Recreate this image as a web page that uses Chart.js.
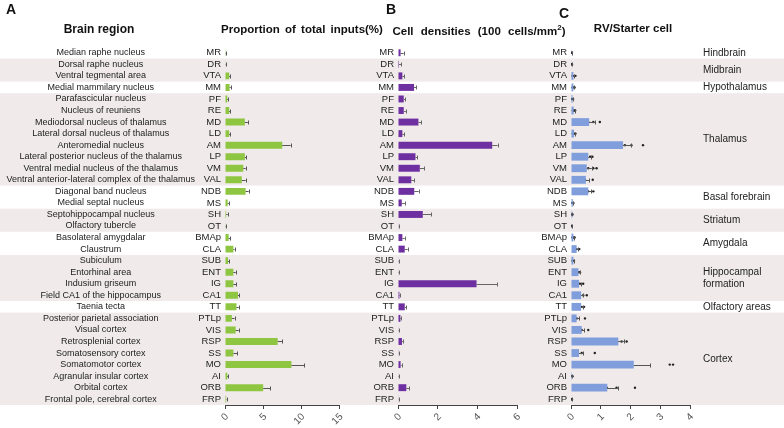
<!DOCTYPE html>
<html lang="en">
<head>
  <meta charset="UTF-8" />
  <title>Brain region inputs</title>
  <script src="https://cdn.jsdelivr.net/npm/chart.js"></script>
  <style>
    body {
      margin: 0;
      width: 784px;
      height: 428px;
      position: relative;
      background: #fff;
      font-family: 'Liberation Sans', Arial, sans-serif;
      color: #111;
      overflow: hidden;
    }
    canvas {
      position: absolute;
      top: 0;
    }
    .head {
      position: absolute;
      font-weight: bold;
      font-size: 11.5px;
      line-height: 14px;
      white-space: nowrap;
      transform: translateX(-50%);
      z-index: 2;
    }
    .letter {
      position: absolute;
      font-weight: bold;
      font-size: 14px;
      line-height: 16px;
      z-index: 2;
    }
    sup { font-size: 8px; line-height: 0; }
  </style>
</head>
<body>
  <canvas id="chartA" width="350" height="428" style="left:0"></canvas>
  <canvas id="chartB" width="190" height="428" style="left:350px"></canvas>
  <canvas id="chartC" width="244" height="428" style="left:540px"></canvas>

  <div class="letter" style="left:6px; top:1px">A</div>
  <div class="letter" style="left:386px; top:1px">B</div>
  <div class="letter" style="left:559px; top:5px">C</div>
  <div class="head" style="left:99px; top:22px; font-size:12px">Brain region</div>
  <div class="head" style="left:302px; top:22px; word-spacing:2px">Proportion of total inputs(%)</div>
  <div class="head" style="left:479px; top:24px; word-spacing:4px">Cell densities (100 cells/mm<sup>2</sup>)</div>
  <div class="head" style="left:633px; top:21px">RV/Starter cell</div>

  <script>
    const abbrs = ['MR', 'DR', 'VTA', 'MM', 'PF', 'RE', 'MD', 'LD', 'AM', 'LP', 'VM', 'VAL',
      'NDB', 'MS', 'SH', 'OT', 'BMAp', 'CLA', 'SUB', 'ENT', 'IG', 'CA1', 'TT',
      'PTLp', 'VIS', 'RSP', 'SS', 'MO', 'AI', 'ORB', 'FRP'];

    const regionNames = ['Median raphe nucleus', 'Dorsal raphe nucleus', 'Ventral tegmental area',
      'Medial mammilary nucleus', 'Parafascicular nucleus', 'Nucleus of reuniens',
      'Mediodorsal nucleus of thalamus', 'Lateral dorsal nucleus of thalamus', 'Anteromedial nucleus',
      'Lateral posterior nucleus of the thalamus', 'Ventral medial nucleus of the thalamus',
      'Ventral anterior-lateral complex of the thalamus', 'Diagonal band nucleus', 'Medial septal nucleus',
      'Septohippocampal nucleus', 'Olfactory tubercle', 'Basolateral amygdalar', 'Claustrum', 'Subiculum',
      'Entorhinal area', 'Indusium griseum', 'Field CA1 of the hippocampus', 'Taenia tecta',
      'Posterior parietal association', 'Visual cortex', 'Retrosplenial cortex', 'Somatosensory cortex',
      'Somatomotor cortex', 'Agranular insular cortex', 'Orbital cortex', 'Frontal pole, cerebral cortex'];

    // [label, first row, last row]
    const regionGroups = [
      ['Hindbrain', 0, 0], ['Midbrain', 1, 2], ['Hypothalamus', 3, 3], ['Thalamus', 4, 11],
      ['Basal forebrain', 12, 13], ['Striatum', 14, 15], ['Amygdala', 16, 17],
      ['Hippocampal\nformation', 18, 21], ['Olfactory areas', 22, 22], ['Cortex', 23, 30]
    ];

    // A: proportion of total inputs (%)
    const inputPct = [0.1, 0.05, 0.55, 0.6, 0.3, 0.55, 2.6, 0.55, 7.5, 2.6, 2.4, 2.2,
      2.7, 0.35, 0.15, 0.05, 0.48, 1.1, 0.4, 1.1, 1.1, 1.7, 1.5,
      0.9, 1.4, 6.9, 1.1, 8.7, 0.3, 5.0, 0.15];
    const inputSem = [0.05, 0.03, 0.15, 0.15, 0.1, 0.15, 0.4, 0.15, 1.1, 0.2, 0.3, 0.5,
      0.4, 0.15, 0.2, 0.05, 0.2, 0.15, 0.15, 0.3, 0.4, 0.15, 0.3,
      0.35, 0.4, 0.6, 0.5, 1.7, 0.1, 0.9, 0.05];

    // B: cell densities (100 cells/mm2)
    const density = [0.13, 0.05, 0.22, 0.81, 0.29, 0.29, 1.03, 0.22, 4.75, 0.88, 1.1, 0.67,
      0.82, 0.19, 1.25, 0.02, 0.22, 0.34, 0.03, 0.03, 3.96, 0.07, 0.34,
      0.12, 0.03, 0.2, 0.02, 0.13, 0.03, 0.42, 0.02];
    const densitySem = [0.16, 0.1, 0.1, 0.1, 0.08, 0.1, 0.15, 0.08, 0.27, 0.1, 0.21, 0.14,
      0.22, 0.15, 0.43, 0.01, 0.12, 0.15, 0.02, 0.02, 1.04, 0.05, 0.08,
      0.04, 0.02, 0.04, 0.01, 0.05, 0.02, 0.13, 0.01];

    // C: RV / starter cell, mean, sem and individual animals
    const rvRatio = [0.02, 0.02, 0.08, 0.08, 0.05, 0.09, 0.61, 0.1, 1.75, 0.58, 0.53, 0.5,
      0.58, 0.06, 0.03, 0.02, 0.08, 0.19, 0.08, 0.25, 0.27, 0.34, 0.34,
      0.19, 0.36, 1.59, 0.27, 2.11, 0.03, 1.22, 0.02];
    const rvSem = [0.01, 0.01, 0.03, 0.03, 0.02, 0.03, 0.19, 0.04, 0.28, 0.1, 0.17, 0.12,
      0.1, 0.02, 0.02, 0.01, 0.03, 0.05, 0.02, 0.05, 0.08, 0.08, 0.06,
      0.09, 0.09, 0.19, 0.13, 0.56, 0.02, 0.37, 0.01];
    const rvAnimals = [
      [0.01, 0.03], [0.01, 0.03], [0.05, 0.1, 0.15], [0.05, 0.08, 0.12], [0.03, 0.07],
      [0.06, 0.1, 0.14], [0.36, 0.49, 0.58, 0.75, 0.97], [0.06, 0.1, 0.15],
      [1.25, 1.39, 1.59, 1.81, 2.03, 2.42], [0.3, 0.41, 0.64, 0.72], [0.3, 0.41, 0.58, 0.75, 0.86],
      [0.21, 0.3, 0.47, 0.73], [0.36, 0.44, 0.58, 0.75], [0.04, 0.08], [0.02, 0.05], [0.01, 0.03],
      [0.05, 0.1, 0.12], [0.12, 0.19, 0.28], [0.05, 0.1], [0.13, 0.25, 0.3], [0.13, 0.3, 0.41],
      [0.3, 0.41, 0.53], [0.25, 0.36, 0.44], [0.08, 0.19, 0.47], [0.19, 0.36, 0.58],
      [1.25, 1.42, 1.55, 1.7, 1.87], [0.08, 0.13, 0.36, 0.8], [0.92, 1.2, 1.59, 3.32, 3.43],
      [0.02, 0.05], [0.66, 0.97, 1.2, 1.53, 2.15], [0.01, 0.03]
    ];

    const FONT = "'Liberation Sans', Arial, sans-serif";
    const bandColor = '#f0eaeb';

    // shaded background rows, every other region group
    const bandPlugin = {
      id: 'bands',
      beforeDraw(chart) {
        const y = chart.scales.y, ctx = chart.ctx;
        const step = y.getPixelForValue(1) - y.getPixelForValue(0);
        ctx.save();
        ctx.fillStyle = bandColor;
        regionGroups.forEach((g, k) => {
          if (k % 2 === 0) return;
          const top = y.getPixelForValue(g[1]) - step / 2;
          const bottom = y.getPixelForValue(g[2]) + step / 2;
          ctx.fillRect(0, top, chart.width, bottom - top);
        });
        ctx.restore();
      }
    };

    // one-sided error bars (mean + sem)
    const errorBarPlugin = {
      id: 'errorBars',
      afterDatasetsDraw(chart, args, opts) {
        const meta = chart.getDatasetMeta(0);
        const x = chart.scales.x, ctx = chart.ctx;
        const vals = chart.data.datasets[0].data;
        ctx.save();
        ctx.strokeStyle = opts.color;
        ctx.lineWidth = 1;
        meta.data.forEach((bar, i) => {
          const x0 = x.getPixelForValue(vals[i]);
          const x1 = x.getPixelForValue(vals[i] + opts.sem[i]);
          const yy = Math.round(bar.y) + 0.5;
          ctx.beginPath();
          ctx.moveTo(x0, yy);
          ctx.lineTo(x1, yy);
          ctx.moveTo(Math.round(x1) + 0.5, yy - 2);
          ctx.lineTo(Math.round(x1) + 0.5, yy + 2);
          ctx.stroke();
        });
        ctx.restore();
      }
    };

    // region group names on the right of panel C
    const groupLabelPlugin = {
      id: 'groupLabels',
      afterDraw(chart) {
        const y = chart.scales.y, ctx = chart.ctx;
        const left = chart.chartArea.right + 13;
        ctx.save();
        ctx.font = '10px ' + FONT;
        ctx.fillStyle = '#222';
        ctx.textBaseline = 'middle';
        ctx.textAlign = 'left';
        regionGroups.forEach(g => {
          const mid = (y.getPixelForValue(g[1]) + y.getPixelForValue(g[2])) / 2;
          const lines = g[0].split('\n');
          lines.forEach((ln, j) => {
            ctx.fillText(ln, left, mid + (j - (lines.length - 1) / 2) * 12);
          });
        });
        ctx.restore();
      }
    };

    function valueAxis(max, step) {
      return {
        type: 'linear',
        position: 'bottom',
        min: 0,
        max: max,
        grid: { drawOnChartArea: false, drawTicks: true, tickLength: 4, color: '#444' },
        border: { display: true, color: '#444', width: 1 },
        ticks: {
          stepSize: step, minRotation: 45, maxRotation: 45, padding: 2, labelOffset: 2,
          font: { family: FONT, size: 10 }, color: '#555'
        },
        afterFit(s) { s.height = 23; }
      };
    }

    function abbrAxis(width) {
      return {
        type: 'category',
        position: 'left',
        offset: true,
        grid: { display: false, drawTicks: false },
        border: { display: false },
        ticks: { padding: 4, autoSkip: false, font: { family: FONT, size: 9.5 }, color: '#222' },
        afterFit(s) { s.width = width; }
      };
    }

    function baseOptions(padRight, errSem, errColor) {
      return {
        indexAxis: 'y',
        responsive: false,
        animation: false,
        layout: { padding: { top: 47, bottom: 0, left: 0, right: padRight } },
        plugins: {
          legend: { display: false },
          tooltip: { enabled: false },
          errorBars: { sem: errSem, color: errColor }
        }
      };
    }

    // Panel A
    const optsA = baseOptions(10, inputSem, '#555');
    optsA.scales = {
      x: valueAxis(15, 5),
      y: abbrAxis(30),
      names: {
        type: 'category',
        labels: regionNames,
        position: 'left',
        weight: 1,
        offset: true,
        min: 0,
        max: regionNames.length - 1,
        grid: { display: false, drawTicks: false },
        border: { display: false },
        ticks: { crossAlign: 'center', padding: 0, autoSkip: false, font: { family: FONT, size: 9 }, color: '#222' },
        afterFit(s) { s.width = 195; }
      }
    };
    new Chart(document.getElementById('chartA'), {
      type: 'bar',
      data: {
        labels: abbrs,
        datasets: [{ data: inputPct, backgroundColor: '#8fc641', barPercentage: 0.6, categoryPercentage: 1 }]
      },
      options: optsA,
      plugins: [bandPlugin, errorBarPlugin]
    });

    // Panel B
    const optsB = baseOptions(23, densitySem, '#666');
    optsB.scales = { x: valueAxis(6, 2), y: abbrAxis(48) };
    new Chart(document.getElementById('chartB'), {
      type: 'bar',
      data: {
        labels: abbrs,
        datasets: [{ data: density, backgroundColor: '#6e2fa0', barPercentage: 0.6, categoryPercentage: 1 }]
      },
      options: optsB,
      plugins: [bandPlugin, errorBarPlugin]
    });

    // Panel C
    const rvPoints = rvAnimals.flatMap((vals, i) => vals.map(v => ({ x: v, y: abbrs[i] })));
    const optsC = baseOptions(94, rvSem, '#555');
    optsC.scales = { x: valueAxis(4, 1), y: abbrAxis(31) };
    new Chart(document.getElementById('chartC'), {
      type: 'bar',
      data: {
        labels: abbrs,
        datasets: [
          { data: rvRatio, backgroundColor: '#7f9edb', barPercentage: 0.68, categoryPercentage: 1 },
          { type: 'scatter', data: rvPoints, pointRadius: 1.2, backgroundColor: '#222', borderWidth: 0 }
        ]
      },
      options: optsC,
      plugins: [bandPlugin, errorBarPlugin, groupLabelPlugin]
    });
  </script>
</body>
</html>
